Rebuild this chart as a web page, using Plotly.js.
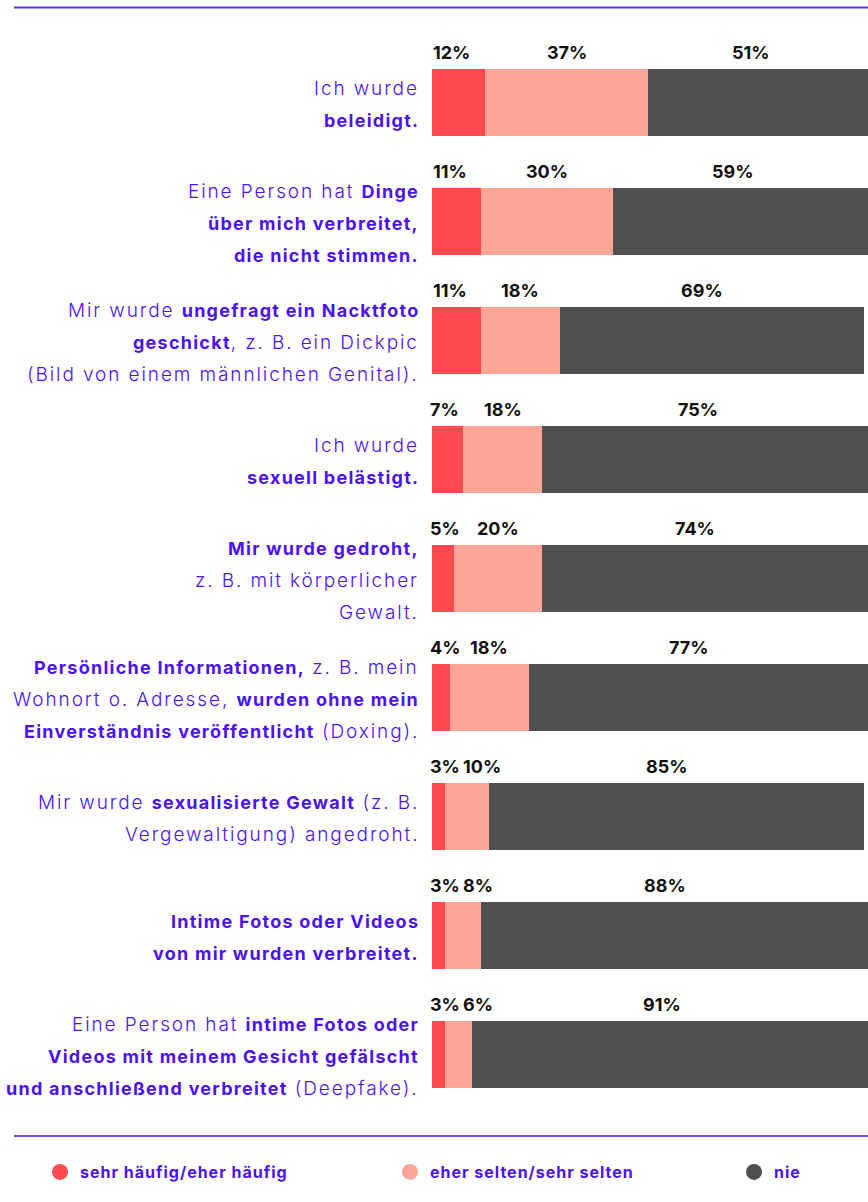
<!DOCTYPE html>
<html>
<head>
<meta charset="utf-8">
<script src="https://cdn.plot.ly/plotly-3.0.1.min.js"></script>
<style>
  html, body { margin: 0; padding: 0; background: #ffffff; }
  #chart { width: 868px; height: 1202px; }
</style>
</head>
<body>
<div id="chart"></div>
<script>
// ---------- data ----------
const labelLines = [
  ["Ich wurde", "<b>beleidigt.</b>"],
  ["Eine Person hat <b>Dinge</b>", "<b>über mich verbreitet,</b>", "<b>die nicht stimmen.</b>"],
  ["Mir wurde <b>ungefragt ein Nacktfoto</b>", "<b>geschickt</b>, z. B. ein Dickpic", "(Bild von einem männlichen Genital)."],
  ["Ich wurde", "<b>sexuell belästigt.</b>"],
  ["<b>Mir wurde gedroht,</b>", "z. B. mit körperlicher", "Gewalt."],
  ["<b>Persönliche Informationen,</b> z. B. mein", "Wohnort o. Adresse, <b>wurden ohne mein</b>", "<b>Einverständnis veröffentlicht</b> (Doxing)."],
  ["Mir wurde <b>sexualisierte Gewalt</b> (z. B.", "Vergewaltigung) angedroht."],
  ["<b>Intime Fotos oder Videos</b>", "<b>von mir wurden verbreitet.</b>"],
  ["Eine Person hat <b>intime Fotos oder</b>", "<b>Videos mit meinem Gesicht gefälscht</b>", "<b>und anschließend verbreitet</b> (Deepfake)."]
];
const categories = labelLines.map(l => l.join(" ").replace(/<\/?b>/g, ""));

const seriesNames = ["sehr häufig/eher häufig", "eher selten/sehr selten", "nie"];
const oftenValues  = [12, 11, 11, 7, 5, 4, 3, 3, 3];
const rarelyValues = [37, 30, 18, 18, 20, 18, 10, 8, 6];
const neverValues  = [51, 59, 69, 75, 74, 77, 85, 88, 91];
const series = [oftenValues, rarelyValues, neverValues];

// ---------- style ----------
const colors = ["#ff4b50", "#fda698", "#505050"];
const purple = "#4b12f5";
const FONT = "Inter, 'Noto Sans', sans-serif";
const W = 868, H = 1202;
const M = { l: 432, r: 0, t: 43, b: 88 };
const plotW = W - M.l - M.r, plotH = H - M.t - M.b;
const pxPerUnit = 4.41;
const xMax = plotW / pxPerUnit;
const LIGHT_SP = 1.9, BOLD_SP = 1.25;

// widen text (reference typeface is wider than the installed ones)
function styleLine(line) {
  return line.split(/(<b>.*?<\/b>)/).filter(p => p.length).map(p => {
    if (p.startsWith("<b>")) {
      return "<b><span style=\"font-size:18px;letter-spacing:" + BOLD_SP + "px\">" + p.slice(3, -4) + "</span></b>";
    }
    return "<span style=\"letter-spacing:" + LIGHT_SP + "px\">" + p + "</span>";
  }).join("");
}

// text measuring for label collision avoidance
const cv = document.createElement("canvas").getContext("2d");
cv.font = "700 18px Inter";
const tw = s => cv.measureText(s).width;

// ---------- traces ----------
const traces = series.map((vals, i) => ({
  type: "bar",
  orientation: "h",
  x: vals,
  y: categories,
  name: seriesNames[i],
  marker: { color: colors[i], line: { width: 0 } },
  width: 0.563,
  showlegend: false,
  hoverinfo: "skip"
}));
// legend entries (circle symbols), one legend each so they can be spaced freely
const legendKeys = ["legend", "legend2", "legend3"];
seriesNames.forEach((n, i) => {
  traces.push({
    type: "scatter", mode: "markers", x: [null], y: [null],
    name: "<span style=\"letter-spacing:1px\">" + n + "</span>",
    legend: legendKeys[i],
    marker: { symbol: "circle", size: 18, color: colors[i] },
    showlegend: true, hoverinfo: "skip"
  });
});

// ---------- annotations ----------
const annotations = [];
const lineGap = 31.8;
labelLines.forEach((lines, ci) => {
  const n = lines.length;
  lines.forEach((ln, li) => {
    annotations.push({
      xref: "x", yref: "y", x: 0, y: categories[ci],
      text: styleLine(ln), showarrow: false,
      xanchor: "right", yanchor: "middle",
      xshift: -11, yshift: -((li - (n - 1) / 2) * lineGap) - 2,
      font: { family: FONT, size: 19, color: purple, weight: 300 }
    });
  });
});

categories.forEach((c, ci) => {
  const v1 = oftenValues[ci], v2 = rarelyValues[ci], v3 = neverValues[ci];
  const t1 = v1 + "%", t2 = v2 + "%", t3 = v3 + "%";
  const w1 = tw(t1), w2 = tw(t2);
  const x1 = Math.max(v1 / 2 - 1.5, (w1 / 2 - 2) / pxPerUnit);
  const x2 = Math.max(v1 + v2 / 2, x1 + (w1 / 2 + w2 / 2 + 3) / pxPerUnit);
  const x3 = v1 + v2 + v3 / 2;
  [[x1, t1, 0], [x2, t2, 0], [x3, t3, -10]].forEach(([x, t, xs]) => {
    annotations.push({
      xref: "x", yref: "y", x: x, y: c, text: t, showarrow: false,
      xanchor: "center", yanchor: "middle", xshift: xs, yshift: 50,
      font: { family: FONT, size: 18, color: "#111111", weight: 700 }
    });
  });
});

// ---------- decorative rules ----------
const px2paperX = px => (px - M.l) / plotW;
const px2paperY = py => (H - M.b - py) / plotH;
const shapes = [
  { type: "line", xref: "paper", yref: "paper",
    x0: px2paperX(14), x1: px2paperX(868), y0: px2paperY(7.5), y1: px2paperY(7.5),
    line: { color: "#5a2ff0", width: 2 } },
  { type: "line", xref: "paper", yref: "paper",
    x0: px2paperX(14), x1: px2paperX(868), y0: px2paperY(1136), y1: px2paperY(1136),
    line: { color: purple, width: 1.5 } }
];

const legendBase = {
  orientation: "h", y: px2paperY(1172),
  xanchor: "left", yanchor: "middle",
  font: { family: FONT, size: 16, color: purple, weight: 700 },
  bgcolor: "rgba(0,0,0,0)", borderwidth: 0
};
const legendX = [40, 390, 734];

const layout = {
  width: W, height: H,
  margin: M,
  paper_bgcolor: "#ffffff", plot_bgcolor: "#ffffff",
  barmode: "stack",
  bargap: 0,
  xaxis: { range: [0, xMax], visible: false, fixedrange: true },
  yaxis: { type: "category", categoryorder: "array", categoryarray: categories,
           range: [categories.length - 0.5, -0.5], visible: false, fixedrange: true },
  showlegend: true,
  legend:  Object.assign({}, legendBase, { x: px2paperX(legendX[0]) }),
  legend2: Object.assign({}, legendBase, { x: px2paperX(legendX[1]) }),
  legend3: Object.assign({}, legendBase, { x: px2paperX(legendX[2]) }),
  annotations: annotations,
  shapes: shapes,
  font: { family: FONT }
};

Plotly.newPlot("chart", traces, layout, { displayModeBar: false, staticPlot: true });
</script>
</body>
</html>
